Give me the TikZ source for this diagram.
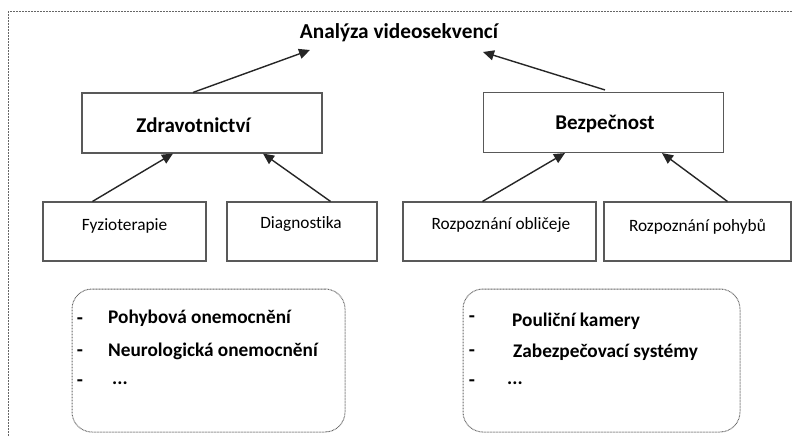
\documentclass[tikz,border=0pt]{standalone}
\usepackage{fontspec}
\setmainfont{Carlito}[Ligatures=NoCommon]
\usetikzlibrary{arrows.meta,calc}
\begin{document}
\begin{tikzpicture}[x=1pt,y=-1pt,
  linecol/.style={draw=black!85, line width=1.4pt},
  arr/.style={linecol, -{Triangle[length=11pt,width=10pt]}},
  midbox/.style={draw=black!65, line width=1.1pt, minimum width=240pt, minimum height=60pt, inner sep=0pt},
  leafbox/.style={draw=black!65, line width=1.1pt, inner sep=0pt, minimum height=59pt},
  leaftext/.style={font=\fontsize{17.3}{20}\selectfont, inner sep=0pt},
  headtext/.style={font=\fontsize{21.3}{24}\selectfont\bfseries, inner sep=0pt},
  boxhead/.style={font=\fontsize{21}{24}\selectfont\bfseries, inner sep=0pt},
  listbox/.style={draw=black!60, line width=1pt, dash pattern=on 0.8pt off 0.7pt, rounded corners=20pt, inner sep=0pt},
  itemtext/.style={font=\fontsize{19.3}{22}\selectfont\bfseries, inner sep=0pt, anchor=west},
  dashmark/.style={font=\fontsize{20}{22}\selectfont\bfseries, inner sep=0pt, anchor=base},
]
\useasboundingbox (0,0) rectangle (792,436);
\fill[white] (0,0) rectangle (792,436);
% outer dotted frame, running off the page at right and bottom
\draw[draw=black!60, line width=1pt, dash pattern=on 0.8pt off 0.7pt] (8,460) -- (8,12) -- (800,12);

% title
\node[headtext] (title) at (399,33) {Analýza videosekvencí};

% second level
\node[midbox] (zdr) at (202,123) {};
\node[boxhead] (zdrt) at (193.5,125) {Zdravotnictví};
\node[midbox] (bez) at (603.5,122.5) {};
\node[boxhead] (bezt) at (605,124) {Bezpečnost};

% leaves
\node[leafbox, minimum width=163pt] (fyz) at (124.5,231.5) {};
\node[leaftext] (fyzt) at (124.5,226) {Fyzioterapie};
\node[leafbox, minimum width=150pt] (dia) at (302,231.5) {};
\node[leaftext] (diat) at (301,224) {Diagnostika};
\node[leafbox, minimum width=193pt] (obl) at (499.5,231.5) {};
\node[leaftext] (oblt) at (501,225) {Rozpoznání obličeje};
\node[leafbox, minimum width=187pt] (poh) at (697.5,231.5) {};
\node[leaftext] (poht) at (697.5,227) {Rozpoznání pohybů};

% connectors
\coordinate (tl) at (310,50);
\coordinate (tr) at (483,52);
\draw[arr] ($(zdr.north)+(-9,0)$) -- (tl);
\draw[arr] ($(bez.north)+(1.5,-2)$) -- (tr);
\draw[arr] ($(fyz.north west)+(50,0)$) -- ($(zdr.south)+(-29,0)$);
\draw[arr] ($(dia.north east)+(-47,0)$) -- ($(zdr.south)+(61,0)$);
\draw[arr] ($(obl.north west)+(80,0)$) -- ($(bez.south)+(-38.5,0)$);
\draw[arr] ($(poh.north west)+(124,0)$) -- ($(bez.south)+(58.5,0)$);

% example lists
\node[listbox, minimum width=273pt, minimum height=143pt] (lista) at (208.5,360.5) {};
\node[listbox, minimum width=277pt, minimum height=143pt] (listb) at (601.5,360.5) {};

\node[dashmark] (da1) at (80,324) {-};
\node[dashmark] (da2) at (80,356) {-};
\node[dashmark] (da3) at (80,386) {-};
\node[itemtext] (ia1) at (108,318) {Pohybová onemocnění};
\node[itemtext] (ia2) at (108,351) {Neurologická onemocnění};
\node[itemtext] (ia3) at (112,383) {...};

\node[dashmark] (db1) at (472,322) {-};
\node[dashmark] (db2) at (472,356) {-};
\node[dashmark] (db3) at (472,386) {-};
\node[itemtext] (ib1) at (512,321) {Pouliční kamery};
\node[itemtext] (ib2) at (513,352) {Zabezpečovací systémy};
\node[itemtext] (ib3) at (507,383) {...};
\end{tikzpicture}
\end{document}
